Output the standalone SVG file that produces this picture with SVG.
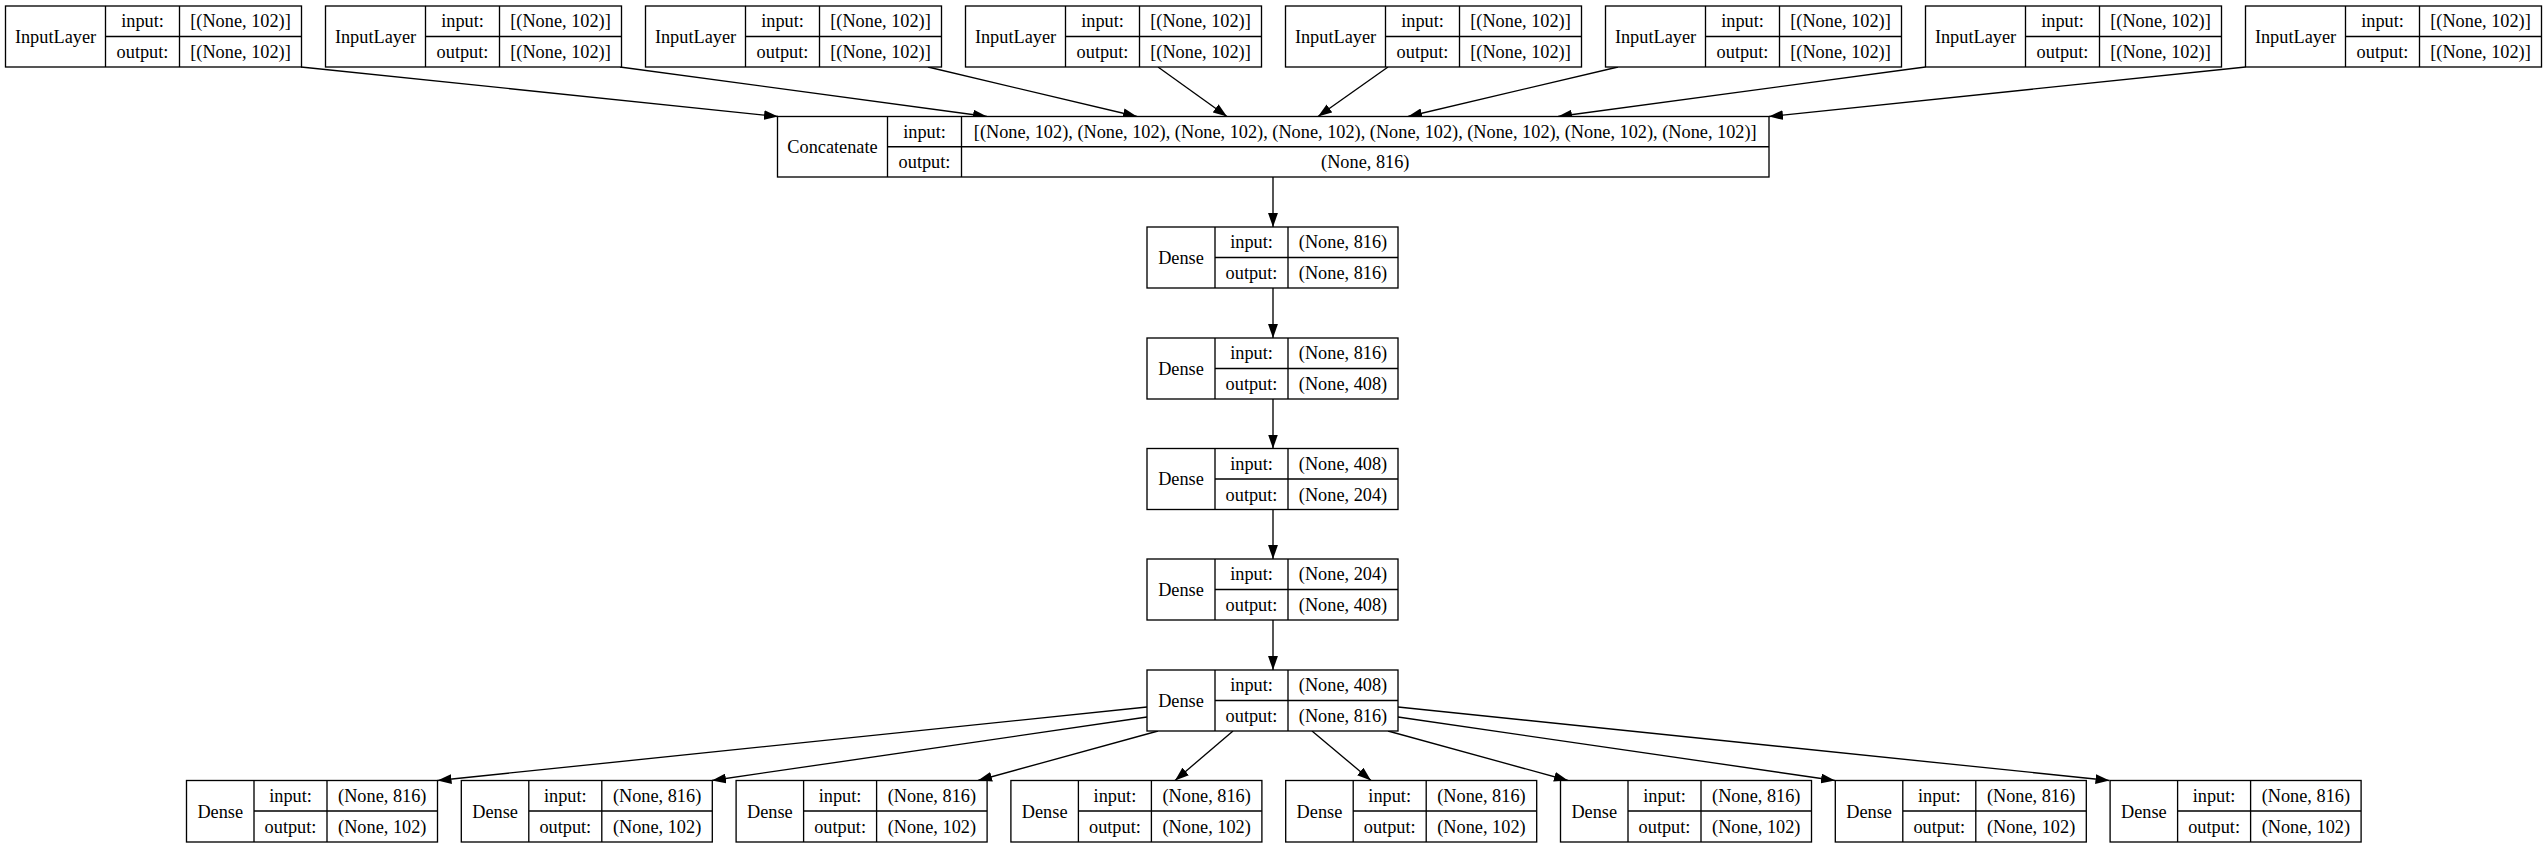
<svg xmlns="http://www.w3.org/2000/svg" width="2547" height="848" viewBox="0 0 2547 848">
<defs>
<style>
.b{fill:#fff;stroke:#000;stroke-width:1.33}
.d{stroke:#000;stroke-width:1.33;fill:none}
.t{font-family:"Liberation Serif","Times New Roman",serif;font-size:18.3px;text-anchor:middle;fill:#000}
.e{stroke:#000;stroke-width:1.33;fill:none;marker-end:url(#ah)}
</style>
<marker id="ah" markerUnits="userSpaceOnUse" markerWidth="14" markerHeight="10" viewBox="0 0 13.3 9.4" refX="13.3" refY="4.7" orient="auto">
<path d="M0,0 L13.3,4.7 L0,9.4 z" fill="#000"/>
</marker>
</defs>
<rect width="2547" height="848" fill="#fff"/>

<g id="connectors">
<path class="e" d="M301,67 L778,116.5"/>
<path class="e" d="M620,67 L987,116.5"/>
<path class="e" d="M928,67 L1137,116.5"/>
<path class="e" d="M1158,67 L1227,116.5"/>
<path class="e" d="M1388,67 L1318,116.5"/>
<path class="e" d="M1618,67 L1408,116.5"/>
<path class="e" d="M1925.5,67 L1558,116.5"/>
<path class="e" d="M2245.5,67 L1769,116.5"/>
<path class="e" d="M1273,177 L1273,227"/>
<path class="e" d="M1273,288 L1273,338"/>
<path class="e" d="M1273,399 L1273,448.5"/>
<path class="e" d="M1273,509.5 L1273,559"/>
<path class="e" d="M1273,620 L1273,670"/>
<path class="e" d="M1147,707 L437.5,780.5"/>
<path class="e" d="M1147,717 L712,780.5"/>
<path class="e" d="M1158,731 L978,780.5"/>
<path class="e" d="M1233,731 L1175,780.5"/>
<path class="e" d="M1312,731 L1371,780.5"/>
<path class="e" d="M1388,731 L1568,780.5"/>
<path class="e" d="M1398,717 L1835,780.5"/>
<path class="e" d="M1398,707 L2109.5,780.5"/>
</g>

<g id="input1" transform="translate(5.5,6)">
<rect class="b" x="0" y="0" width="296" height="61"/>
<path class="d" d="M100,0V61M174,0V61M100,30.5H296"/>
<text class="t" x="50" y="36.5">InputLayer</text>
<text class="t" x="137" y="21">input:</text><text class="t" x="235" y="21">[(None, 102)]</text>
<text class="t" x="137" y="52">output:</text><text class="t" x="235" y="52">[(None, 102)]</text>
</g>
<g id="input2" transform="translate(325.5,6)">
<rect class="b" x="0" y="0" width="296" height="61"/>
<path class="d" d="M100,0V61M174,0V61M100,30.5H296"/>
<text class="t" x="50" y="36.5">InputLayer</text>
<text class="t" x="137" y="21">input:</text><text class="t" x="235" y="21">[(None, 102)]</text>
<text class="t" x="137" y="52">output:</text><text class="t" x="235" y="52">[(None, 102)]</text>
</g>
<g id="input3" transform="translate(645.5,6)">
<rect class="b" x="0" y="0" width="296" height="61"/>
<path class="d" d="M100,0V61M174,0V61M100,30.5H296"/>
<text class="t" x="50" y="36.5">InputLayer</text>
<text class="t" x="137" y="21">input:</text><text class="t" x="235" y="21">[(None, 102)]</text>
<text class="t" x="137" y="52">output:</text><text class="t" x="235" y="52">[(None, 102)]</text>
</g>
<g id="input4" transform="translate(965.5,6)">
<rect class="b" x="0" y="0" width="296" height="61"/>
<path class="d" d="M100,0V61M174,0V61M100,30.5H296"/>
<text class="t" x="50" y="36.5">InputLayer</text>
<text class="t" x="137" y="21">input:</text><text class="t" x="235" y="21">[(None, 102)]</text>
<text class="t" x="137" y="52">output:</text><text class="t" x="235" y="52">[(None, 102)]</text>
</g>
<g id="input5" transform="translate(1285.5,6)">
<rect class="b" x="0" y="0" width="296" height="61"/>
<path class="d" d="M100,0V61M174,0V61M100,30.5H296"/>
<text class="t" x="50" y="36.5">InputLayer</text>
<text class="t" x="137" y="21">input:</text><text class="t" x="235" y="21">[(None, 102)]</text>
<text class="t" x="137" y="52">output:</text><text class="t" x="235" y="52">[(None, 102)]</text>
</g>
<g id="input6" transform="translate(1605.5,6)">
<rect class="b" x="0" y="0" width="296" height="61"/>
<path class="d" d="M100,0V61M174,0V61M100,30.5H296"/>
<text class="t" x="50" y="36.5">InputLayer</text>
<text class="t" x="137" y="21">input:</text><text class="t" x="235" y="21">[(None, 102)]</text>
<text class="t" x="137" y="52">output:</text><text class="t" x="235" y="52">[(None, 102)]</text>
</g>
<g id="input7" transform="translate(1925.5,6)">
<rect class="b" x="0" y="0" width="296" height="61"/>
<path class="d" d="M100,0V61M174,0V61M100,30.5H296"/>
<text class="t" x="50" y="36.5">InputLayer</text>
<text class="t" x="137" y="21">input:</text><text class="t" x="235" y="21">[(None, 102)]</text>
<text class="t" x="137" y="52">output:</text><text class="t" x="235" y="52">[(None, 102)]</text>
</g>
<g id="input8" transform="translate(2245.5,6)">
<rect class="b" x="0" y="0" width="296" height="61"/>
<path class="d" d="M100,0V61M174,0V61M100,30.5H296"/>
<text class="t" x="50" y="36.5">InputLayer</text>
<text class="t" x="137" y="21">input:</text><text class="t" x="235" y="21">[(None, 102)]</text>
<text class="t" x="137" y="52">output:</text><text class="t" x="235" y="52">[(None, 102)]</text>
</g>

<g id="concatenate" transform="translate(777.5,116.5)">
<rect class="b" x="0" y="0" width="991.5" height="60.5"/>
<path class="d" d="M110,0V60.5M184,0V60.5M110,30.25H991.5"/>
<text class="t" x="55" y="36.5">Concatenate</text>
<text class="t" x="147" y="21">input:</text><text class="t" x="587.75" y="21">[(None, 102), (None, 102), (None, 102), (None, 102), (None, 102), (None, 102), (None, 102), (None, 102)]</text>
<text class="t" x="147" y="51.5">output:</text><text class="t" x="587.75" y="51.5">(None, 816)</text>
</g>

<g id="dense1" transform="translate(1147,227)">
<rect class="b" x="0" y="0" width="251" height="61"/>
<path class="d" d="M68,0V61M141,0V61M68,30.5H251"/>
<text class="t" x="34" y="36.5">Dense</text>
<text class="t" x="104.5" y="21">input:</text><text class="t" x="196" y="21">(None, 816)</text>
<text class="t" x="104.5" y="52">output:</text><text class="t" x="196" y="52">(None, 816)</text>
</g>
<g id="dense2" transform="translate(1147,338)">
<rect class="b" x="0" y="0" width="251" height="61"/>
<path class="d" d="M68,0V61M141,0V61M68,30.5H251"/>
<text class="t" x="34" y="36.5">Dense</text>
<text class="t" x="104.5" y="21">input:</text><text class="t" x="196" y="21">(None, 816)</text>
<text class="t" x="104.5" y="52">output:</text><text class="t" x="196" y="52">(None, 408)</text>
</g>
<g id="dense3" transform="translate(1147,448.5)">
<rect class="b" x="0" y="0" width="251" height="61"/>
<path class="d" d="M68,0V61M141,0V61M68,30.5H251"/>
<text class="t" x="34" y="36.5">Dense</text>
<text class="t" x="104.5" y="21">input:</text><text class="t" x="196" y="21">(None, 408)</text>
<text class="t" x="104.5" y="52">output:</text><text class="t" x="196" y="52">(None, 204)</text>
</g>
<g id="dense4" transform="translate(1147,559)">
<rect class="b" x="0" y="0" width="251" height="61"/>
<path class="d" d="M68,0V61M141,0V61M68,30.5H251"/>
<text class="t" x="34" y="36.5">Dense</text>
<text class="t" x="104.5" y="21">input:</text><text class="t" x="196" y="21">(None, 204)</text>
<text class="t" x="104.5" y="52">output:</text><text class="t" x="196" y="52">(None, 408)</text>
</g>
<g id="dense5" transform="translate(1147,670)">
<rect class="b" x="0" y="0" width="251" height="61"/>
<path class="d" d="M68,0V61M141,0V61M68,30.5H251"/>
<text class="t" x="34" y="36.5">Dense</text>
<text class="t" x="104.5" y="21">input:</text><text class="t" x="196" y="21">(None, 408)</text>
<text class="t" x="104.5" y="52">output:</text><text class="t" x="196" y="52">(None, 816)</text>
</g>

<g id="out1" transform="translate(186.5,780.5)">
<rect class="b" x="0" y="0" width="251" height="61.5"/>
<path class="d" d="M67.5,0V61.5M140.5,0V61.5M67.5,30.5H251"/>
<text class="t" x="33.75" y="37">Dense</text>
<text class="t" x="104" y="21">input:</text><text class="t" x="195.75" y="21">(None, 816)</text>
<text class="t" x="104" y="52">output:</text><text class="t" x="195.75" y="52">(None, 102)</text>
</g>
<g id="out2" transform="translate(461.3,780.5)">
<rect class="b" x="0" y="0" width="251" height="61.5"/>
<path class="d" d="M67.5,0V61.5M140.5,0V61.5M67.5,30.5H251"/>
<text class="t" x="33.75" y="37">Dense</text>
<text class="t" x="104" y="21">input:</text><text class="t" x="195.75" y="21">(None, 816)</text>
<text class="t" x="104" y="52">output:</text><text class="t" x="195.75" y="52">(None, 102)</text>
</g>
<g id="out3" transform="translate(736.1,780.5)">
<rect class="b" x="0" y="0" width="251" height="61.5"/>
<path class="d" d="M67.5,0V61.5M140.5,0V61.5M67.5,30.5H251"/>
<text class="t" x="33.75" y="37">Dense</text>
<text class="t" x="104" y="21">input:</text><text class="t" x="195.75" y="21">(None, 816)</text>
<text class="t" x="104" y="52">output:</text><text class="t" x="195.75" y="52">(None, 102)</text>
</g>
<g id="out4" transform="translate(1010.9,780.5)">
<rect class="b" x="0" y="0" width="251" height="61.5"/>
<path class="d" d="M67.5,0V61.5M140.5,0V61.5M67.5,30.5H251"/>
<text class="t" x="33.75" y="37">Dense</text>
<text class="t" x="104" y="21">input:</text><text class="t" x="195.75" y="21">(None, 816)</text>
<text class="t" x="104" y="52">output:</text><text class="t" x="195.75" y="52">(None, 102)</text>
</g>
<g id="out5" transform="translate(1285.7,780.5)">
<rect class="b" x="0" y="0" width="251" height="61.5"/>
<path class="d" d="M67.5,0V61.5M140.5,0V61.5M67.5,30.5H251"/>
<text class="t" x="33.75" y="37">Dense</text>
<text class="t" x="104" y="21">input:</text><text class="t" x="195.75" y="21">(None, 816)</text>
<text class="t" x="104" y="52">output:</text><text class="t" x="195.75" y="52">(None, 102)</text>
</g>
<g id="out6" transform="translate(1560.5,780.5)">
<rect class="b" x="0" y="0" width="251" height="61.5"/>
<path class="d" d="M67.5,0V61.5M140.5,0V61.5M67.5,30.5H251"/>
<text class="t" x="33.75" y="37">Dense</text>
<text class="t" x="104" y="21">input:</text><text class="t" x="195.75" y="21">(None, 816)</text>
<text class="t" x="104" y="52">output:</text><text class="t" x="195.75" y="52">(None, 102)</text>
</g>
<g id="out7" transform="translate(1835.3,780.5)">
<rect class="b" x="0" y="0" width="251" height="61.5"/>
<path class="d" d="M67.5,0V61.5M140.5,0V61.5M67.5,30.5H251"/>
<text class="t" x="33.75" y="37">Dense</text>
<text class="t" x="104" y="21">input:</text><text class="t" x="195.75" y="21">(None, 816)</text>
<text class="t" x="104" y="52">output:</text><text class="t" x="195.75" y="52">(None, 102)</text>
</g>
<g id="out8" transform="translate(2110.1,780.5)">
<rect class="b" x="0" y="0" width="251" height="61.5"/>
<path class="d" d="M67.5,0V61.5M140.5,0V61.5M67.5,30.5H251"/>
<text class="t" x="33.75" y="37">Dense</text>
<text class="t" x="104" y="21">input:</text><text class="t" x="195.75" y="21">(None, 816)</text>
<text class="t" x="104" y="52">output:</text><text class="t" x="195.75" y="52">(None, 102)</text>
</g>
</svg>
